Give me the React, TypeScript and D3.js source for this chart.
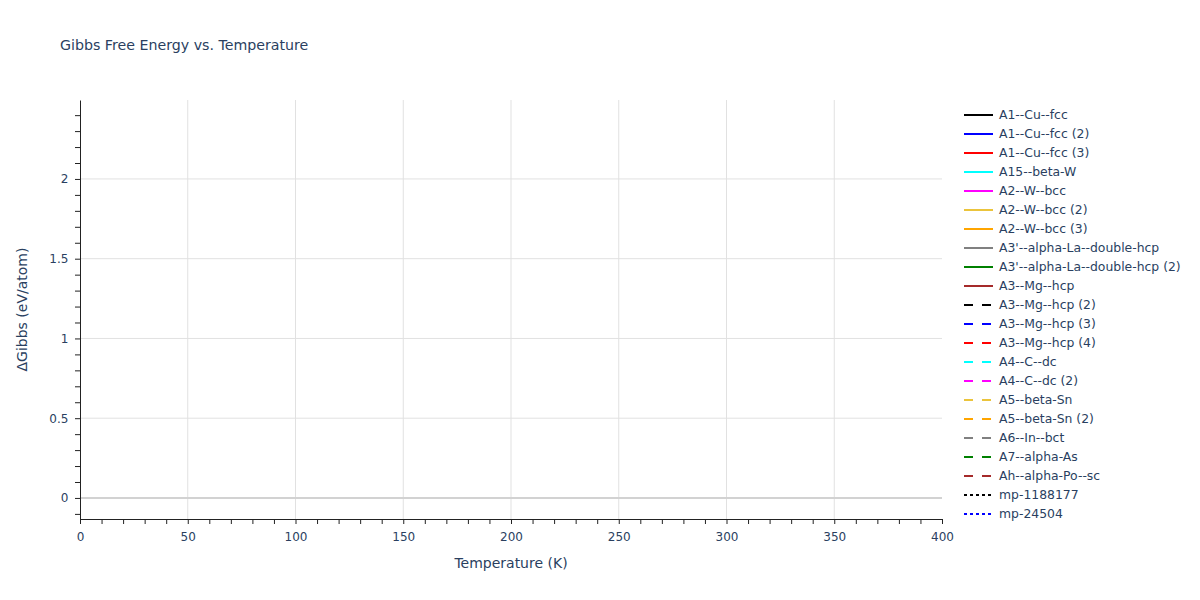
// Gibbs free energy vs temperature, drawn with D3

import React, { useEffect, useRef } from 'react'
import * as d3 from 'd3'

const W = 1200
const H = 600
const margin = { left: 80, right: 258, top: 100, bottom: 81 }

// Data: the reference shows the phase curves with no points in the visible window
const temperatures: number[] = []

const phaseNames = [
  'A1--Cu--fcc',
  'A1--Cu--fcc (2)',
  'A1--Cu--fcc (3)',
  'A15--beta-W',
  'A2--W--bcc',
  'A2--W--bcc (2)',
  'A2--W--bcc (3)',
  "A3'--alpha-La--double-hcp",
  "A3'--alpha-La--double-hcp (2)",
  'A3--Mg--hcp',
  'A3--Mg--hcp (2)',
  'A3--Mg--hcp (3)',
  'A3--Mg--hcp (4)',
  'A4--C--dc',
  'A4--C--dc (2)',
  'A5--beta-Sn',
  'A5--beta-Sn (2)',
  'A6--In--bct',
  'A7--alpha-As',
  'Ah--alpha-Po--sc',
  'mp-1188177',
  'mp-24504',
]

const phaseColors = [
  'black', 'blue', 'red', 'cyan', 'magenta', '#ebc43c', 'orange', 'grey', 'green', 'brown',
  'black', 'blue', 'red', 'cyan', 'magenta', '#ebc43c', 'orange', 'grey', 'green', 'brown',
  'black', 'blue',
]

const phaseDash = [
  'solid', 'solid', 'solid', 'solid', 'solid', 'solid', 'solid', 'solid', 'solid', 'solid',
  'dash', 'dash', 'dash', 'dash', 'dash', 'dash', 'dash', 'dash', 'dash', 'dash',
  'dot', 'dot',
]

// ΔGibbs values per phase (eV/atom), one per temperature
const phaseValues: number[][] = phaseNames.map(() => [])

const xDomain = [0, 400]
const yDomain = [-0.132, 2.495]
const xMajor = [0, 50, 100, 150, 200, 250, 300, 350, 400]
const yMajor = [0, 0.5, 1, 1.5, 2]

const dashArray = (d: string) => (d === 'dash' ? '9,9' : d === 'dot' ? '3,3' : null)

const font = "'DejaVu Sans', Verdana, sans-serif"
const textColor = '#2a3f5f'

const App = () => {
  const ref = useRef<SVGSVGElement>(null)

  useEffect(() => {
    const svg = d3.select(ref.current)
    svg.selectAll('*').remove()

    const pw = W - margin.left - margin.right
    const ph = H - margin.top - margin.bottom

    const x = d3.scaleLinear().domain(xDomain).range([margin.left, margin.left + pw])
    const y = d3.scaleLinear().domain(yDomain).range([margin.top + ph, margin.top])

    // Title
    svg
      .append('text')
      .attr('x', 60)
      .attr('y', 50)
      .style('font-family', font)
      .style('font-size', '14.2px')
      .style('fill', textColor)
      .text('Gibbs Free Energy vs. Temperature')

    // Grid
    const grid = svg.append('g')
    grid
      .selectAll('line.vx')
      .data(xMajor.filter(v => v > xDomain[0] && v < xDomain[1]))
      .join('line')
      .attr('x1', d => x(d))
      .attr('x2', d => x(d))
      .attr('y1', margin.top)
      .attr('y2', margin.top + ph)
      .style('stroke', '#e1e1e1')
      .style('stroke-width', 1)
    grid
      .selectAll('line.hy')
      .data(yMajor.filter(v => v !== 0))
      .join('line')
      .attr('x1', margin.left)
      .attr('x2', margin.left + pw)
      .attr('y1', d => y(d))
      .attr('y2', d => y(d))
      .style('stroke', '#e1e1e1')
      .style('stroke-width', 1)
    // Zero line
    grid
      .append('line')
      .attr('x1', margin.left)
      .attr('x2', margin.left + pw)
      .attr('y1', y(0))
      .attr('y2', y(0))
      .style('stroke', '#d2d2d2')
      .style('stroke-width', 2)

    // Lines
    const line = d3
      .line<number>()
      .defined(v => v != null && !isNaN(v))
      .x((_, i) => x(temperatures[i]))
      .y(v => y(v))
    svg
      .append('g')
      .selectAll('path')
      .data(phaseValues)
      .join('path')
      .attr('d', d => line(d) || '')
      .style('fill', 'none')
      .style('stroke', (_, i) => phaseColors[i])
      .style('stroke-width', 2)
      .style('stroke-dasharray', (_, i) => dashArray(phaseDash[i]))

    // X axis
    const xAxis = svg
      .append('g')
      .attr('transform', `translate(0, ${margin.top + ph})`)
      .call(
        d3
          .axisBottom(x)
          .tickValues(d3.range(0, 401, 10))
          .tickSize(5)
          .tickSizeOuter(0)
          .tickFormat(d => (+d % 50 === 0 ? String(d) : ''))
      )
    xAxis.selectAll('text').attr('dy', '1.2em')

    // Y axis
    const yAxis = svg
      .append('g')
      .attr('transform', `translate(${margin.left}, 0)`)
      .call(
        d3
          .axisLeft(y)
          .tickValues(d3.range(-0.1, 2.45, 0.1).map(v => Math.round(v * 10) / 10))
          .tickSize(5)
          .tickSizeOuter(0)
          .tickFormat(d => (yMajor.includes(+d) ? String(d) : ''))
      )
    yAxis.selectAll('text').attr('dx', '-0.3em')

    for (const ax of [xAxis, yAxis]) {
      ax.selectAll('line').style('stroke', '#222')
      ax.selectAll('path').style('stroke', '#222').style('stroke-width', 1)
      ax.selectAll('text')
        .style('fill', textColor)
        .style('font-family', font)
        .style('font-size', '12px')
    }

    // Axis titles
    svg
      .append('text')
      .attr('x', margin.left + pw / 2)
      .attr('y', 568)
      .attr('text-anchor', 'middle')
      .style('font-family', font)
      .style('font-size', '14px')
      .style('fill', textColor)
      .text('Temperature (K)')
    svg
      .append('text')
      .attr('transform', `translate(27, ${margin.top + ph / 2}) rotate(-90)`)
      .attr('text-anchor', 'middle')
      .style('font-family', font)
      .style('font-size', '14px')
      .style('fill', textColor)
      .text('ΔGibbs (eV/atom)')

    // Legend
    const legend = svg
      .append('g')
      .selectAll('g')
      .data(phaseNames)
      .join('g')
      .attr('transform', (_, i) => `translate(964, ${115 + i * 19})`)
    legend
      .append('line')
      .attr('x1', 0)
      .attr('x2', 29)
      .style('stroke', (_, i) => phaseColors[i])
      .style('stroke-width', 2)
      .style('stroke-dasharray', (_, i) => dashArray(phaseDash[i]))
    legend
      .append('text')
      .attr('x', 35)
      .attr('dy', '0.35em')
      .style('font-family', font)
      .style('font-size', '12.4px')
      .style('fill', textColor)
      .text(d => d)
  }, [])

  return (
    <div style={{ position: 'absolute', left: 0, top: 0 }}>
      <svg ref={ref} width={W} height={H} style={{ display: 'block', background: 'white' }} />
    </div>
  )
}

export default App
